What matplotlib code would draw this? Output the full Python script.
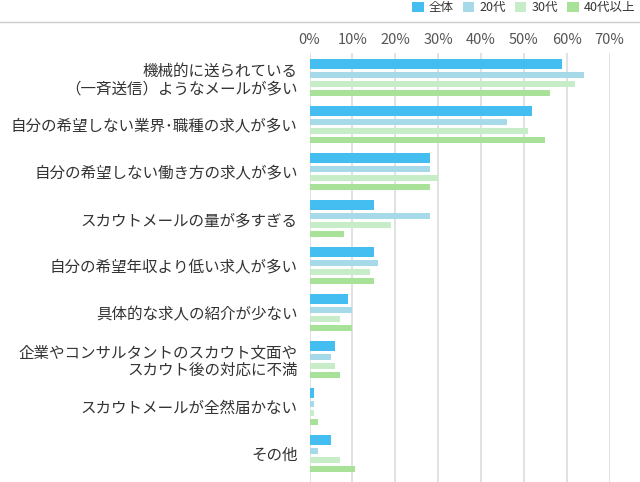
import numpy as np
import matplotlib
matplotlib.use("Agg")
import matplotlib.pyplot as plt
from matplotlib.lines import Line2D

plt.rcParams['font.family'] = ['Noto Sans CJK JP', 'DejaVu Sans']

# reasons (top to bottom)
categories = [
    "機械的に送られている\n（一斉送信）ようなメールが多い",
    "自分の希望しない業界･職種の求人が多い",
    "自分の希望しない働き方の求人が多い",
    "スカウトメールの量が多すぎる",
    "自分の希望年収より低い求人が多い",
    "具体的な求人の紹介が少ない",
    "企業やコンサルタントのスカウト文面や\nスカウト後の対応に不満",
    "スカウトメールが全然届かない",
    "その他",
]
series_names = ["全体", "20代", "30代", "40代以上"]
zentai = [59, 52, 28, 15, 15, 9, 6, 1, 5]
age20 = [64, 46, 28, 28, 16, 10, 5, 1, 2]
age30 = [62, 51, 30, 19, 14, 7, 6, 1, 7]
age40 = [56, 55, 28, 8, 15, 10, 7, 2, 10.5]
xticks = [0, 10, 20, 30, 40, 50, 60, 70]

colors = ["#44BEF0", "#A6DAE8", "#C6ECC8", "#A8E298"]

W, H = 640, 482
fig = plt.figure(figsize=(W / 100, H / 100), dpi=100)
left, right, top = 309.5, 609.5, 53
ax = fig.add_axes([left / W, 0, (right - left) / W, (H - top) / H])

# layout in pixel units from the axes top
pitch = 47
first = 6
offsets = [5, 16, 25, 34]
heights = [10, 6, 6, 6]

base = first + pitch * np.arange(len(categories))
all_vals = [zentai, age20, age30, age40]
for vals, name, c, off, h in zip(all_vals, series_names, colors, offsets, heights):
    ax.barh(base + off, vals, height=h, color=c, label=name, zorder=3)

ax.set_xlim(0, 70)
ax.set_ylim(H - top, 0)
ax.set_xticks(xticks)
ax.set_xticklabels([f"{t}%" for t in xticks], color="#555555", fontsize=10.5)
ax.xaxis.tick_top()
ax.tick_params(axis='x', length=0, pad=4.5)
ax.set_yticks(base + 18.5)
ax.set_yticklabels(categories, fontsize=11.2, color="#333333", linespacing=1.05)
ax.tick_params(axis='y', length=0, pad=8.5)
ax.grid(axis='x', color="#dddddd", linewidth=1.2, zorder=0)
for s in ax.spines.values():
    s.set_visible(False)

fig.add_artist(Line2D([0, 1], [1 - 22 / H, 1 - 22 / H], transform=fig.transFigure,
                      color="#cccccc", linewidth=1.0))

fig.legend(loc='center right', bbox_to_anchor=(635 / W, 1 - 7.5 / H), ncol=4,
           frameon=False, fontsize=9, handlelength=0.9, handleheight=0.9,
           handletextpad=0.4, columnspacing=0.75, borderaxespad=0, borderpad=0,
           labelcolor="#333333")

fig.savefig("out.png", dpi=100)
